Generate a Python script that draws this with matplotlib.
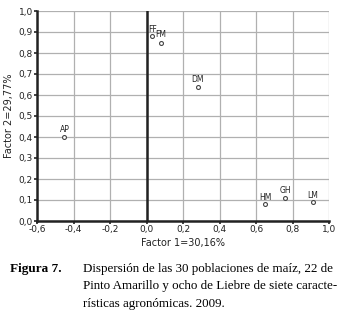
import matplotlib
matplotlib.use("Agg")
from matplotlib import pyplot as plt
from matplotlib.ticker import FuncFormatter

# points (loadings on factor 1 and 2)
names = ["FF", "FM", "DM", "AP", "HM", "GH", "LM"]
factor1 = [0.03, 0.08, 0.28, -0.45, 0.65, 0.76, 0.91]
factor2 = [0.88, 0.85, 0.64, 0.40, 0.08, 0.11, 0.09]

xticks = [-0.6, -0.4, -0.2, 0.0, 0.2, 0.4, 0.6, 0.8, 1.0]
yticks = [0.0, 0.1, 0.2, 0.3, 0.4, 0.5, 0.6, 0.7, 0.8, 0.9, 1.0]

comma = FuncFormatter(lambda v, p: f"{v:.1f}".replace(".", ","))

fig = plt.figure(figsize=(3.45, 3.17), dpi=100)
ax = fig.add_axes([37 / 345, 1 - 221 / 317, 292 / 345, 210 / 317])

ax.scatter(factor1, factor2, s=8, facecolors="white", edgecolors="#444444",
           linewidths=0.8, zorder=3)
for n, x, y in zip(names, factor1, factor2):
    if n == "FF":
        ax.text(x - 0.02, y + 0.012, n, fontsize=5.5, ha="left", va="bottom", color="#222222")
    elif n == "FM":
        ax.text(x - 0.03, y + 0.015, n, fontsize=5.5, ha="left", va="bottom", color="#222222")
    else:
        ax.text(x, y + 0.012, n, fontsize=5.5, ha="center", va="bottom", color="#222222")

ax.set_xlim(-0.6, 1.0)
ax.set_ylim(0.0, 1.0)
ax.set_xticks(xticks)
ax.set_yticks(yticks)
ax.xaxis.set_major_formatter(comma)
ax.yaxis.set_major_formatter(comma)
ax.tick_params(labelsize=6.5, length=2, width=1.2, pad=1, colors="#222222")
ax.grid(color="#b0b0b0", linewidth=0.9)
ax.set_axisbelow(True)
ax.axvline(0.0, color="#222222", linewidth=1.8, zorder=2)
for s in ["top", "right"]:
    ax.spines[s].set_visible(False)
for s in ["left", "bottom"]:
    ax.spines[s].set_linewidth(1.8)
    ax.spines[s].set_color("#222222")

ax.set_xlabel("Factor 1=30,16%", fontsize=7, labelpad=3, color="#222222")
ax.set_ylabel("Factor 2=29,77%", fontsize=7, labelpad=3, color="#222222")

serif = "Liberation Serif"
fig.text(10 / 345, 1 - 269 / 317, "Figura 7.", fontsize=9.5, fontweight="bold",
         family=serif, va="center")
lines = ["Dispersión de las 30 poblaciones de maíz, 22 de",
         "Pinto Amarillo y ocho de Liebre de siete caracte-",
         "rísticas agronómicas. 2009."]
for i, t in enumerate(lines):
    fig.text(83 / 345, 1 - (269 + 17.5 * i) / 317, t, fontsize=9.4,
             family=serif, va="center")

fig.savefig("out.png", dpi=100)
